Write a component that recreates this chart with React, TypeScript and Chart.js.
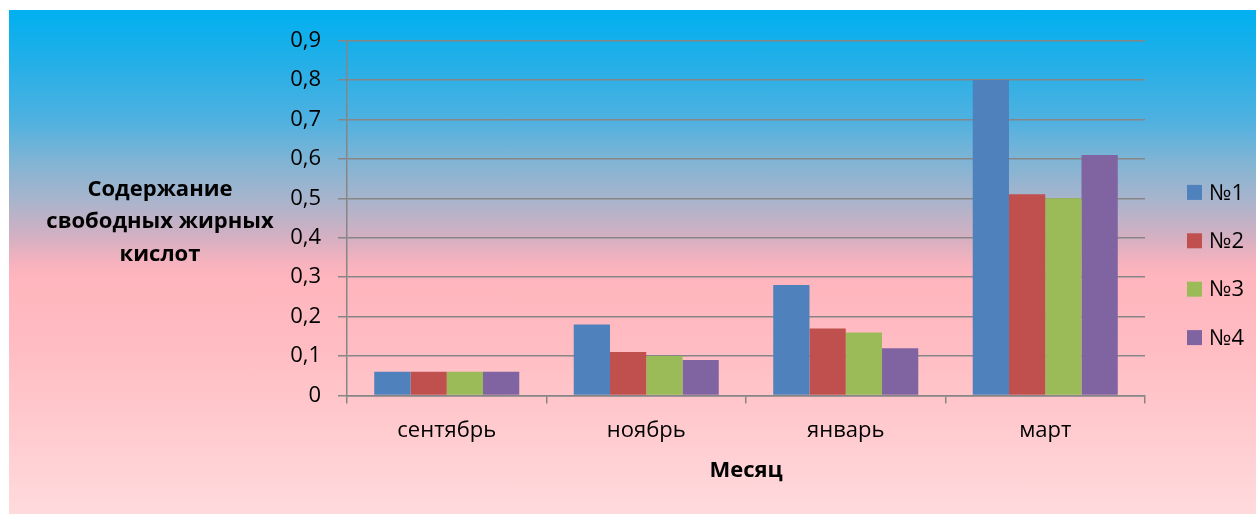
import React, { useEffect, useRef } from "react";
import { Chart, registerables } from "chart.js";

Chart.register(...registerables);

// Months on the category axis
const months = ["сентябрь", "ноябрь", "январь", "март"];

// Sample names and their values (free fatty acid content)
const seriesNames = ["№1", "№2", "№3", "№4"];
const sample1 = [0.06, 0.18, 0.28, 0.8];
const sample2 = [0.06, 0.11, 0.17, 0.51];
const sample3 = [0.06, 0.1, 0.16, 0.5];
const sample4 = [0.06, 0.09, 0.12, 0.61];
const seriesColors = ["#4f81bd", "#c0504d", "#9bbb59", "#8064a2"];

// Value axis range
const yMin = 0;
const yMax = 0.9;
const yStep = 0.1;

// Axis titles
const yTitleLines = ["Содержание", "свободных жирных", "кислот"];
const xTitle = "Месяц";

const FONT = "'Open Sans', 'Noto Sans', sans-serif";
const GRID = "#868686";
const W = 1247;
const H = 504;

const formatTick = (v: number | string) => {
  const n = Number(v);
  if (Math.abs(n) < 1e-9) return "0";
  return n.toFixed(1).replace(".", ",");
};

// Draws the horizontal y title, the x title and the legend column
const decorations = {
  id: "decorations",
  afterDraw(chart: Chart) {
    const { ctx, chartArea } = chart;
    ctx.save();
    ctx.fillStyle = "#000";
    ctx.textAlign = "center";
    ctx.textBaseline = "middle";
    ctx.font = `bold 22px ${FONT}`;

    const yTitleCx = 151;
    const yTitleCy = (chartArea.top + chartArea.bottom) / 2 + 4;
    const lh = 32.5;
    yTitleLines.forEach((line, i) => {
      ctx.fillText(line, yTitleCx, yTitleCy + (i - (yTitleLines.length - 1) / 2) * lh);
    });

    ctx.fillText(xTitle, (chartArea.left + chartArea.right) / 2, 461);

    // legend
    const box = 15;
    const boxX = chartArea.right + 42;
    const step = 48.4;
    const midY = 255;
    ctx.font = `22px ${FONT}`;
    ctx.textAlign = "left";
    chart.data.datasets.forEach((ds, i) => {
      const cy = midY + (i - (chart.data.datasets.length - 1) / 2) * step;
      ctx.fillStyle = ds.backgroundColor as string;
      ctx.fillRect(boxX, cy - box / 2, box, box);
      ctx.fillStyle = "#000";
      ctx.fillText(ds.label as string, boxX + box + 7, cy + 1);
    });
    ctx.restore();
  },
};

export default function App() {
  const canvasRef = useRef<HTMLCanvasElement | null>(null);

  useEffect(() => {
    const canvas = canvasRef.current;
    if (!canvas) return;
    const values = [sample1, sample2, sample3, sample4];
    const chart = new Chart(canvas, {
      type: "bar",
      data: {
        labels: months,
        datasets: values.map((data, i) => ({
          label: seriesNames[i],
          data,
          backgroundColor: seriesColors[i],
          borderWidth: 0,
          categoryPercentage: 0.727,
          barPercentage: 1,
        })),
      },
      options: {
        responsive: false,
        maintainAspectRatio: false,
        animation: false,
        layout: { padding: { top: 30.5, right: 111, bottom: 0, left: 0 } },
        plugins: {
          legend: { display: false },
          tooltip: { enabled: false },
        },
        scales: {
          x: {
            grid: {
              offset: true,
              drawOnChartArea: false,
              tickLength: 8,
              color: GRID,
              lineWidth: 1.5,
            },
            border: { color: GRID, width: 1.5 },
            ticks: {
              color: "#000",
              font: { family: FONT, size: 22 },
              padding: 14,
              maxRotation: 0,
            },
            afterFit: (scale: any) => {
              scale.height = H - 385.5;
            },
          },
          y: {
            min: yMin,
            max: yMax,
            ticks: {
              stepSize: yStep,
              color: "#000",
              font: { family: FONT, size: 22 },
              padding: 17,
              callback: (v: number | string) => formatTick(v),
            },
            grid: { color: GRID, lineWidth: 1.5, tickLength: 9 },
            border: { color: GRID, width: 1.5 },
            afterFit: (scale: any) => {
              scale.width = 338;
            },
          },
        },
      },
      plugins: [decorations],
    });
    return () => chart.destroy();
  }, []);

  return (
    <div
      style={{
        position: "absolute",
        left: 9,
        top: 10,
        width: W,
        height: H,
        background:
          "linear-gradient(to bottom, #00b0f0 0%, #22afe8 10%, #4fb1e0 22%, #80b4d4 30%, #aab4cc 38%, #d3b0c2 45%, #f5b2be 50%, #ffb5bd 53%, #ffbcc2 66%, #ffc8cc 80%, #ffdadd 100%)",
      }}
    >
      <canvas
        ref={canvasRef}
        width={W}
        height={H}
        style={{ display: "block", width: W, height: H }}
      />
    </div>
  );
}
